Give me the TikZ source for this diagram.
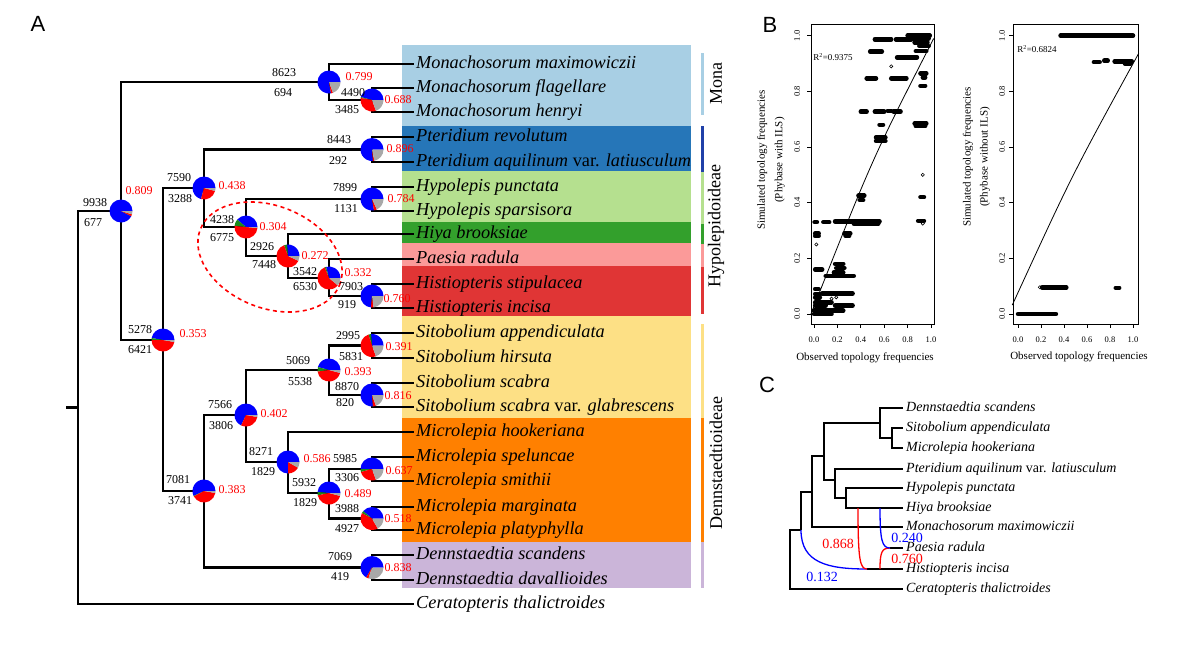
\documentclass[tikz,border=0pt]{standalone}
\usepackage{fontspec}
\setmainfont{Liberation Serif}
\setsansfont{Liberation Sans}
\newcommand{\fsz}[1]{\fontsize{#1}{#1}\selectfont}
\definecolor{pblue}{HTML}{0000FF}
\definecolor{pred}{HTML}{FF0000}
\definecolor{pgreen}{HTML}{1A8A1A}
\definecolor{pgray}{HTML}{A8A8A8}
\definecolor{bMona}{HTML}{A8CFE4}
\definecolor{bPter}{HTML}{2676B8}
\definecolor{bPterBar}{HTML}{2040A8}
\definecolor{bHyp}{HTML}{B5E08F}
\definecolor{bHiya}{HTML}{33A02C}
\definecolor{bPae}{HTML}{FB9A99}
\definecolor{bHist}{HTML}{E03535}
\definecolor{bSit}{HTML}{FDE085}
\definecolor{bMic}{HTML}{FF8000}
\definecolor{bDen}{HTML}{CBB5D9}
\newcommand{\pr}{11.5}
\newcommand{\drawpie}[4]{%
  \begin{scope}[shift={(#1)}, x=1pt, y=1pt]
    \fill[pblue] (0,0) -- (0:\pr) arc[start angle=0, end angle=#2, radius=\pr] -- cycle;
    \fill[pgreen] (0,0) -- (#2:\pr) arc[start angle=#2, end angle=#3, radius=\pr] -- cycle;
    \fill[pred] (0,0) -- (#3:\pr) arc[start angle=#3, end angle=#4, radius=\pr] -- cycle;
    \fill[pgray] (0,0) -- (#4:\pr) arc[start angle=#4, end angle=360, radius=\pr] -- cycle;
  \end{scope}}
\tikzset{
  leaf/.style={anchor=west, inner xsep=3pt, inner ysep=0pt, font=\fsz{18.3}\itshape, text height=12pt, text depth=4pt},
  cleaf/.style={anchor=west, inner xsep=3pt, inner ysep=0pt, font=\fsz{14}\itshape, text height=9.5pt, text depth=3pt},
  cnum/.style={font=\fsz{12}, inner sep=0pt},
  rnum/.style={font=\fsz{12}, text=red, inner sep=0pt},
  tline/.style={line width=2.3pt, line cap=rect},
  cline/.style={line width=1.3pt},
  panel/.style={font=\sffamily\fsz{22}, inner sep=0pt},
  bar/.style={line width=3pt},
  clade/.style={font=\fsz{18}, rotate=90, inner sep=0pt},
  streak/.style={line width=4.5pt, line cap=round},
  tick/.style={font=\fsz{8.5}, inner sep=0pt},
  axlab/.style={font=\fsz{11}, inner sep=0pt},
  gam/.style={font=\fsz{14}, inner sep=0pt}
}
\begin{document}
\begin{tikzpicture}[x=1pt, y=-1pt]
\useasboundingbox (0,0) rectangle (1200,645);
\fill[white] (0,0) rectangle (1200,645);

% ---------------- Panel A: bands -----------------
\fill[bMona] (402,45) rectangle (691,126);
\fill[bPter] (402,126) rectangle (691,171);
\fill[bHyp]  (402,171) rectangle (691,222);
\fill[bHiya] (402,222) rectangle (691,243);
\fill[bPae]  (402,243) rectangle (691,266);
\fill[bHist] (402,266) rectangle (691,316);
\fill[bSit]  (402,316) rectangle (691,418);
\fill[bMic]  (402,418) rectangle (691,542);
\fill[bDen]  (402,542) rectangle (691,588);

% side bars
\draw[bar, bMona] (702,53) -- (702,115);
\draw[bar, bPterBar] (702,126) -- (702,172);
\draw[bar, bHyp] (702,172) -- (702,224);
\draw[bar, bHiya] (702,224) -- (702,244);
\draw[bar, bPae] (702,244) -- (702,267);
\draw[bar, bHist] (702,267) -- (702,314);
\draw[bar, bSit] (702,324) -- (702,418);
\draw[bar, bMic] (702,418) -- (702,542);
\draw[bar, bDen] (702,542) -- (702,588);
\node[clade] (gMona) at (716,84) {Mona};
\node[clade] (gHyp) at (716,226) {Hypolepidoideae};
\node[clade] (gDen) at (716,463) {Dennstaedtioideae};

\node[panel] (pA) at (38,24) {A};

% leaves
\node[leaf] (L1) at (413,64) {Monachosorum maximowiczii};
\node[leaf] (L2) at (413,88) {Monachosorum flagellare};
\node[leaf] (L3) at (413,112) {Monachosorum henryi};
\node[leaf] (L4) at (413,137) {Pteridium revolutum};
\node[leaf] (L5) at (413,162) {Pteridium aquilinum \textup{var.} latiusculum};
\node[leaf] (L6) at (413,187) {Hypolepis punctata};
\node[leaf] (L7) at (413,211) {Hypolepis sparsisora};
\node[leaf] (L8) at (413,234) {Hiya brooksiae};
\node[leaf] (L9) at (413,259) {Paesia radula};
\node[leaf] (L10) at (413,284) {Histiopteris stipulacea};
\node[leaf] (L11) at (413,308) {Histiopteris incisa};
\node[leaf] (L12) at (413,333) {Sitobolium appendiculata};
\node[leaf] (L13) at (413,358) {Sitobolium hirsuta};
\node[leaf] (L14) at (413,383) {Sitobolium scabra};
\node[leaf] (L15) at (413,407) {Sitobolium scabra \textup{var.} glabrescens};
\node[leaf] (L16) at (413,432) {Microlepia hookeriana};
\node[leaf] (L17) at (413,457) {Microlepia speluncae};
\node[leaf] (L18) at (413,481) {Microlepia smithii};
\node[leaf] (L19) at (413,507) {Microlepia marginata};
\node[leaf] (L20) at (413,530) {Microlepia platyphylla};
\node[leaf] (L21) at (413,555) {Dennstaedtia scandens};
\node[leaf] (L22) at (413,580) {Dennstaedtia davallioides};
\node[leaf] (L23) at (413,604) {Ceratopteris thalictroides};

% internal nodes
\coordinate (R0) at (67,407.5);
\coordinate (R) at (78,407.5);
\coordinate (n9938) at (121,211);
\coordinate (nMona) at (329,82);
\coordinate (n4490) at (372,100);
\coordinate (n5278) at (163,340);
\coordinate (n7590) at (204,188);
\coordinate (nPter) at (372,149.5);
\coordinate (n4238) at (246,227);
\coordinate (n7899) at (372,199);
\coordinate (n2926) at (288,256);
\coordinate (n3542) at (329,278);
\coordinate (n7903) at (372,296);
\coordinate (n7081) at (204,491);
\coordinate (n7566) at (246,415);
\coordinate (n5069) at (329,370);
\coordinate (n2995) at (372,345.5);
\coordinate (n8870) at (372,395);
\coordinate (n8271) at (288,462);
\coordinate (n5932) at (329,493);
\coordinate (n5985) at (372,469);
\coordinate (n3988) at (372,518.5);
\coordinate (n7069) at (372,567.5);

% edges
\draw[tline] (R0) -- (R);
\draw[tline] (R) |- (n9938);
\draw[tline] (R) |- (L23.west);
\draw[tline] (n9938) |- (nMona);
\draw[tline] (n9938) |- (n5278);
\draw[tline] (nMona) |- (L1.west);
\draw[tline] (nMona) |- (n4490);
\draw[tline] (n4490) |- (L2.west);
\draw[tline] (n4490) |- (L3.west);
\draw[tline] (n5278) |- (n7590);
\draw[tline] (n5278) |- (n7081);
\draw[tline] (n7590) |- (nPter);
\draw[tline] (n7590) |- (n4238);
\draw[tline] (nPter) |- (L4.west);
\draw[tline] (nPter) |- (L5.west);
\draw[tline] (n4238) |- (n7899);
\draw[tline] (n4238) |- (n2926);
\draw[tline] (n7899) |- (L6.west);
\draw[tline] (n7899) |- (L7.west);
\draw[tline] (n2926) |- (L8.west);
\draw[tline] (n2926) |- (n3542);
\draw[tline] (n3542) |- (L9.west);
\draw[tline] (n3542) |- (n7903);
\draw[tline] (n7903) |- (L10.west);
\draw[tline] (n7903) |- (L11.west);
\draw[tline] (n7081) |- (n7566);
\draw[tline] (n7081) |- (n7069);
\draw[tline] (n7566) |- (n5069);
\draw[tline] (n7566) |- (n8271);
\draw[tline] (n5069) |- (n2995);
\draw[tline] (n5069) |- (n8870);
\draw[tline] (n2995) |- (L12.west);
\draw[tline] (n2995) |- (L13.west);
\draw[tline] (n8870) |- (L14.west);
\draw[tline] (n8870) |- (L15.west);
\draw[tline] (n8271) |- (L16.west);
\draw[tline] (n8271) |- (n5932);
\draw[tline] (n5932) |- (n5985);
\draw[tline] (n5932) |- (n3988);
\draw[tline] (n5985) |- (L17.west);
\draw[tline] (n5985) |- (L18.west);
\draw[tline] (n3988) |- (L19.west);
\draw[tline] (n3988) |- (L20.west);
\draw[tline] (n7069) |- (L21.west);
\draw[tline] (n7069) |- (L22.west);

% dashed ellipse
\draw[red, line width=1.6pt, dash pattern=on 4pt off 3.5pt, rotate around={-22:(270,257)}] (270,257) ellipse [x radius=75pt, y radius=51pt];

% pies
\drawpie{n9938}{333}{333}{343}
\drawpie{nMona}{280}{280}{290}
\drawpie{n4490}{165}{170}{290}
\drawpie{nPter}{275}{275}{282}
\drawpie{n7590}{255}{255}{345}
\drawpie{n7899}{280}{280}{295}
\drawpie{n4238}{140}{175}{355}
\drawpie{n2926}{95}{110}{335}
\drawpie{n3542}{105}{112}{320}
\drawpie{n7903}{265}{265}{278}
\drawpie{n5278}{170}{180}{350}
\drawpie{n2995}{95}{108}{290}
\drawpie{n5069}{165}{188}{345}
\drawpie{n8870}{275}{275}{290}
\drawpie{n7566}{245}{245}{350}
\drawpie{n8271}{270}{270}{330}
\drawpie{n5985}{180}{195}{290}
\drawpie{n5932}{175}{192}{345}
\drawpie{n3988}{140}{152}{300}
\drawpie{n7081}{205}{208}{350}
\drawpie{n7069}{240}{240}{252}

% numbers
\node[cnum] (t9938) at (95,203) {9938};
\node[cnum] (b9938) at (93,223) {677};
\node[rnum] (r9938) at (139,191) {0.809};
\node[cnum] (tMona) at (284,73) {8623};
\node[cnum] (bMona) at (283,93) {694};
\node[rnum] (rMona) at (359,77) {0.799};
\node[cnum] (t4490) at (353,93) {4490};
\node[cnum] (b4490) at (347,110) {3485};
\node[rnum] (r4490) at (398,100) {0.688};
\node[cnum] (tPter) at (339,140) {8443};
\node[cnum] (bPter) at (338,161) {292};
\node[rnum] (rPter) at (400,149) {0.896};
\node[cnum] (t7590) at (179,178) {7590};
\node[cnum] (b7590) at (180,199) {3288};
\node[rnum] (r7590) at (232,186) {0.438};
\node[cnum] (t7899) at (345,188) {7899};
\node[cnum] (b7899) at (346,209) {1131};
\node[rnum] (r7899) at (401,199) {0.784};
\node[cnum] (t4238) at (222,220) {4238};
\node[cnum] (b4238) at (222,238) {6775};
\node[rnum] (r4238) at (273,227) {0.304};
\node[cnum] (t2926) at (262,247) {2926};
\node[cnum] (b2926) at (264,265) {7448};
\node[rnum] (r2926) at (315,256) {0.272};
\node[cnum] (t3542) at (305,272) {3542};
\node[cnum] (b3542) at (305,287) {6530};
\node[rnum] (r3542) at (358,273) {0.332};
\node[cnum] (t7903) at (351,287) {7903};
\node[cnum] (b7903) at (347,305) {919};
\node[rnum] (r7903) at (397,299) {0.760};
\node[cnum] (t5278) at (140,330) {5278};
\node[cnum] (b5278) at (140,350) {6421};
\node[rnum] (r5278) at (193,334) {0.353};
\node[cnum] (t2995) at (348,336) {2995};
\node[cnum] (b2995) at (351,357) {5831};
\node[rnum] (r2995) at (399,347) {0.391};
\node[cnum] (t5069) at (298,361) {5069};
\node[cnum] (b5069) at (300,382) {5538};
\node[rnum] (r5069) at (358,372) {0.393};
\node[cnum] (t8870) at (347,387) {8870};
\node[cnum] (b8870) at (345,403) {820};
\node[rnum] (r8870) at (398,396) {0.816};
\node[cnum] (t7566) at (220,405) {7566};
\node[cnum] (b7566) at (221,426) {3806};
\node[rnum] (r7566) at (274,414) {0.402};
\node[cnum] (t8271) at (261,452) {8271};
\node[cnum] (b8271) at (263,472) {1829};
\node[rnum] (r8271) at (317,459) {0.586};
\node[cnum] (t5985) at (345,459) {5985};
\node[cnum] (b5985) at (347,478) {3306};
\node[rnum] (r5985) at (399,471) {0.637};
\node[cnum] (t5932) at (304,483) {5932};
\node[cnum] (b5932) at (305,503) {1829};
\node[rnum] (r5932) at (358,494) {0.489};
\node[cnum] (t3988) at (347,509) {3988};
\node[cnum] (b3988) at (347,529) {4927};
\node[rnum] (r3988) at (398,519) {0.518};
\node[cnum] (t7081) at (178,480) {7081};
\node[cnum] (b7081) at (180,501) {3741};
\node[rnum] (r7081) at (232,490) {0.383};
\node[cnum] (t7069) at (340,557) {7069};
\node[cnum] (b7069) at (340,577) {419};
\node[rnum] (r7069) at (398,568) {0.838};

% ---------------- Panel B -----------------
\node[panel] (pB) at (770,25) {B};
\node[axlab] (xlB1) at (865,358) {Observed topology frequencies};
\node[axlab, rotate=90, align=center, font=\fontsize{11}{17.5}\selectfont] (ylB1) at (771,160) {Simulated topology frequencies\\(Phybase with ILS)};
\node[font=\fsz{9}, inner sep=0pt] (rB1) at (833,57) {R\textsuperscript{2}=0.9375};
\begin{scope}[shift={(814,314)}, x=117pt, y=278.3pt]
  \draw[line width=0.8pt] (-0.026,-0.036) rectangle (1.026,1.042);
  \foreach \v/\l [count=\k] in {0/0.0,0.2/0.2,0.4/0.4,0.6/0.6,0.8/0.8,1/1.0} {
    \draw[line width=0.7pt] (\v,-0.036) -- (\v,-0.052);
    \draw[line width=0.7pt] (-0.026,\v) -- (-0.06,\v);
    \node[tick] (bxa\k) at (\v,-0.093) {\l};
    \node[tick, rotate=90] (bya\k) at (-0.145,\v) {\l};
  }
  \foreach \a/\b/\c in {
    0.52/0.66/0.987, 0.70/0.83/0.987, 0.80/0.99/1.0, 0.82/0.98/0.99, 0.86/0.97/0.975, 0.90/0.98/0.963,
    0.48/0.58/0.943, 0.71/0.88/0.922, 0.87/0.96/0.945,
    0.45/0.53/0.847, 0.66/0.79/0.847, 0.91/0.96/0.865, 0.91/0.95/0.82, 0.93/0.95/0.85,
    0.40/0.45/0.727, 0.52/0.60/0.727, 0.63/0.66/0.73, 0.68/0.74/0.727,
    0.56/0.59/0.68, 0.53/0.61/0.635, 0.53/0.61/0.622, 0.86/0.96/0.685, 0.87/0.95/0.675,
    0.38/0.43/0.425, 0.39/0.42/0.41, 0.91/0.94/0.42,
    0.005/0.025/0.33, 0.08/0.13/0.33, 0.18/0.33/0.333, 0.33/0.56/0.333, 0.34/0.55/0.325, 0.89/0.94/0.335,
    0.01/0.04/0.29, 0.01/0.04/0.28, 0.26/0.31/0.29, 0.27/0.30/0.28,
    0.01/0.07/0.16, 0.18/0.25/0.18, 0.19/0.26/0.165, 0.17/0.25/0.15, 0.10/0.34/0.137,
    0.01/0.04/0.09, 0.01/0.05/0.072, 0.01/0.05/0.06, 0.07/0.33/0.074,
    0.01/0.15/0.042, 0.01/0.10/0.03, 0.18/0.33/0.03, 0.0/0.25/0.012, 0.0/0.15/0.0} {
    \draw[streak] (\a,\c) -- (\b,\c);
  }
  \foreach \a/\c in {0.66/0.89, 0.93/0.50, 0.93/0.325, 0.15/0.055, 0.19/0.06, 0.02/0.25} {
    \draw[line width=0.6pt] (\a,\c) circle[radius=1.6pt];
  }
  \draw[line width=0.8pt] (-0.026,0) .. controls (0.5,0.56) .. (1.023,0.99);
\end{scope}

\node[axlab] (xlB2) at (1079,357) {Observed topology frequencies};
\node[axlab, rotate=90, align=center, font=\fontsize{11}{17}\selectfont] (ylB2) at (976.5,157) {Simulated topology frequencies\\(Phybase without ILS)};
\node[font=\fsz{9}, inner sep=0pt] (rB2) at (1037,49) {R\textsuperscript{2}=0.6824};
\begin{scope}[shift={(1018,314)}, x=115pt, y=278.3pt]
  \draw[line width=0.8pt] (-0.043,-0.036) rectangle (1.043,1.042);
  \foreach \v/\l [count=\k] in {0/0.0,0.2/0.2,0.4/0.4,0.6/0.6,0.8/0.8,1/1.0} {
    \draw[line width=0.7pt] (\v,-0.036) -- (\v,-0.052);
    \draw[line width=0.7pt] (-0.043,\v) -- (-0.077,\v);
    \node[tick] (bxb\k) at (\v,-0.093) {\l};
    \node[tick, rotate=90] (byb\k) at (-0.139,\v) {\l};
  }
  \foreach \a/\b/\c in {0.37/1.0/1.0, 0.66/0.71/0.905, 0.75/0.78/0.91, 0.84/0.99/0.908, 0.93/0.98/0.90,
    0.0/0.33/0.0, 0.21/0.42/0.095, 0.85/0.88/0.094} {
    \draw[streak] (\a,\c) -- (\b,\c);
  }
  \draw[line width=0.6pt] (0.19,0.096) circle[radius=1.6pt];
  \draw[line width=0.8pt] (-0.05,0.032) .. controls (0.47,0.5) .. (1.05,0.937);
\end{scope}

% ---------------- Panel C -----------------
\node[panel] (pC) at (767,385) {C};
\node[cleaf] (C1) at (903,408) {Dennstaedtia scandens};
\node[cleaf] (C2) at (903,428) {Sitobolium appendiculata};
\node[cleaf] (C3) at (903,448) {Microlepia hookeriana};
\node[cleaf] (C4) at (903,469) {Pteridium aquilinum \textup{var.} latiusculum};
\node[cleaf] (C5) at (903,488) {Hypolepis punctata};
\node[cleaf] (C6) at (903,508) {Hiya brooksiae};
\node[cleaf] (C7) at (903,527) {Monachosorum maximowiczii};
\node[cleaf] (C8) at (903,548) {Paesia radula};
\node[cleaf] (C9) at (903,569) {Histiopteris incisa};
\node[cleaf] (C10) at (903,589) {Ceratopteris thalictroides};

\coordinate (cR) at (790,559.5);
\coordinate (cA) at (801,530);
\coordinate (cB) at (812,492);
\coordinate (cC) at (824,456);
\coordinate (cD) at (880,423);
\coordinate (cE) at (892,438);
\coordinate (cF) at (835,480);
\coordinate (cG) at (846,498);
\coordinate (hHist) at (867,569);
\coordinate (hPae) at (890,548);
\coordinate (rHiya1) at (858,508);
\coordinate (rHiya2) at (880,508);
\coordinate (rHist) at (880,569);

\draw[cline] (cR) |- (cA);
\draw[cline] (cR) |- (C10.west);
\draw[cline] (cA) |- (cB);
\draw[cline] (cB) |- (cC);
\draw[cline] (cB) |- (C7.west);
\draw[cline] (cC) |- (cD);
\draw[cline] (cC) |- (cF);
\draw[cline] (cD) |- (C1.west);
\draw[cline] (cD) |- (cE);
\draw[cline] (cE) |- (C2.west);
\draw[cline] (cE) |- (C3.west);
\draw[cline] (cF) |- (C4.west);
\draw[cline] (cF) |- (cG);
\draw[cline] (cG) |- (C5.west);
\draw[cline] (cG) |- (C6.west);
\draw[cline] (hHist) -- (C9.west);
\draw[cline] (hPae) -- (C8.west);
\draw[cline, blue] (cA) .. controls (801,563) and (828,569) .. (hHist);
\draw[cline, red] (rHiya1) .. controls (858,560) and (860,569) .. (hHist);
\draw[cline, red] (rHist) .. controls (880,552) and (882,548) .. (hPae);
\draw[cline, blue] (rHiya2) .. controls (880,540) and (882,548) .. (hPae);
\node[gam, text=red] (g868) at (838,544) {0.868};
\node[gam, text=blue] (g132) at (822,577) {0.132};
\node[gam, text=blue] (g240) at (907,538) {0.240};
\node[gam, text=red] (g760) at (907,559) {0.760};
\end{tikzpicture}
\end{document}
